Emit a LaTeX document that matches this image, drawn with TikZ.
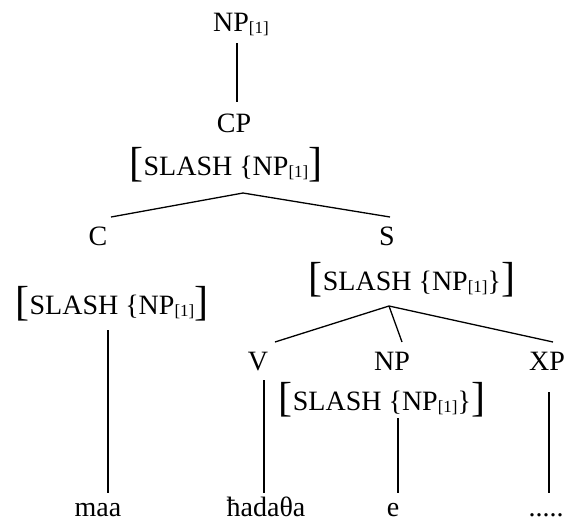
\documentclass[tikz,border=0pt]{standalone}
\usepackage{fontspec}
\setmainfont{Liberation Serif}
\newcommand{\bigbr}[1]{{\fontsize{42}{42}\selectfont\raisebox{-1.5pt}{#1}}}
\newcommand{\subone}{\raisebox{-2pt}{\fontsize{17}{17}\selectfont[1]}}
\begin{document}
\begin{tikzpicture}[x=1pt,y=-1pt,
  lbl/.style={inner sep=0pt, anchor=base, font=\fontsize{28}{32}\selectfont},
  edge/.style={line width=1.3pt}]
\useasboundingbox (0,0) rectangle (566,523);
% nodes
\node[lbl] (np1) at (241,31) {NP\subone};
\node[lbl] (cp) at (234,132) {CP};
\node[lbl] (cpf) at (226,175) {\bigbr{[}SLASH \{NP\subone\bigbr{]}};
\node[lbl] (c) at (98,245) {C};
\node[lbl] (s) at (387,245) {S};
\node[lbl] (cf) at (112,314) {\bigbr{[}SLASH \{NP\subone\bigbr{]}};
\node[lbl] (sf) at (412,290) {\bigbr{[}SLASH \{NP\subone\}\bigbr{]}};
\node[lbl] (v) at (258,370) {V};
\node[lbl] (np) at (392,370) {NP};
\node[lbl] (xp) at (547,370) {XP};
\node[lbl] (npf) at (382,410) {\bigbr{[}SLASH \{NP\subone\}\bigbr{]}};
\node[lbl] (maa) at (98,516) {maa};
\node[lbl] (hadatha) at (266,516) {ħadaθa};
\node[lbl] (e) at (393,516) {e};
\node[lbl] (dots) at (546,516) {.....};
% connector points
\coordinate (np1b) at (237,43);
\coordinate (cpt) at (237,102);
\coordinate (cpapex) at (243,193);
\coordinate (ct) at (111,217);
\coordinate (st) at (390,217);
\coordinate (cfb) at (108,330);
\coordinate (maat) at (108,493);
\coordinate (sapex) at (389,306);
\coordinate (vt) at (275,342);
\coordinate (npt) at (402,342);
\coordinate (xpt) at (553,342);
\coordinate (vb) at (264,380);
\coordinate (hadt) at (264,493);
\coordinate (npfb) at (398,418);
\coordinate (et) at (398,493);
\coordinate (xpb) at (549,392);
\coordinate (dotst) at (549,493);
% connectors
\draw[edge] (np1b) -- (cpt);
\draw[edge] (ct) -- (cpapex) -- (st);
\draw[edge] (cfb) -- (maat);
\draw[edge] (vt) -- (sapex) -- (xpt);
\draw[edge] (sapex) -- (npt);
\draw[edge] (vb) -- (hadt);
\draw[edge] (npfb) -- (et);
\draw[edge] (xpb) -- (dotst);
\end{tikzpicture}
\end{document}
